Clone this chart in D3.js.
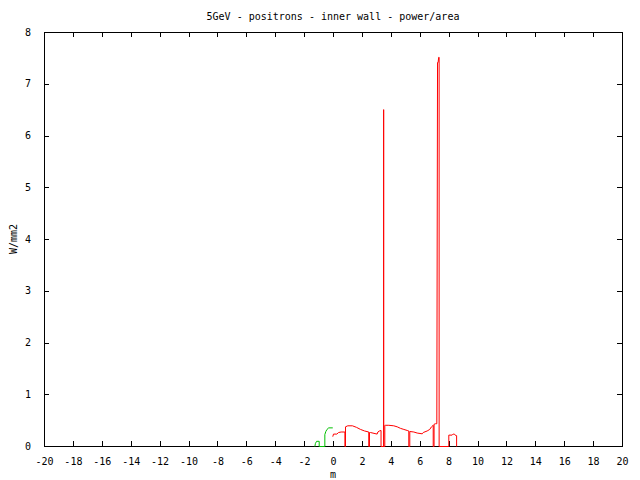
<html>

<head>
    <meta charset="utf-8">
    <title>5GeV - positrons - inner wall - power/area</title>
    <script src="https://cdn.jsdelivr.net/npm/d3@7/dist/d3.min.js"></script>
    <style type="text/css">
        body {
            margin: 0;
            background: white;
        }

        .axis path {
            display: none;
        }

        .axis line {
            stroke: black;
            shape-rendering: crispEdges;
        }

        .axis text,
        .label {
            font-family: "DejaVu Sans Mono", monospace;
            font-size: 10px;
            fill: black;
        }
    </style>
</head>

<body>
    <div id="graphContainer"></div>

    <script type="text/javascript">
        // tick values
        var xTicks = [-20, -18, -16, -14, -12, -10, -8, -6, -4, -2, 0, 2, 4, 6, 8, 10, 12, 14, 16, 18, 20];
        var yTicks = [0, 1, 2, 3, 4, 5, 6, 7, 8];

        // green series (m, W/mm2)
        var greenX = [-1.29, -1.25, -1.17, -0.99, -0.99, -0.60, -0.60, -0.53, -0.45, -0.33, -0.05];
        var greenY = [0, 0.06, 0.10, 0.10, 0, 0, 0.23, 0.29, 0.33, 0.36, 0.36];

        // red series (m, W/mm2)
        var redX = [-0.05, 0.00, 0.23, 0.35, 0.53, 0.79, 0.79, 0.83, 0.83, 0.99, 1.31, 1.59, 1.87, 2.15, 2.44,
            2.44, 2.49, 2.49, 2.56, 3.02, 3.07, 3.18, 3.29, 3.29, 3.47, 3.47, 3.47, 3.55, 3.55, 3.60, 3.83,
            4.17, 4.41, 4.64, 4.87, 5.10, 5.21, 5.21, 5.28, 5.28, 5.56, 5.79, 6.14, 6.21, 6.48, 6.66, 6.78,
            6.90, 6.90, 6.96, 6.96, 7.06, 7.15, 7.20, 7.24, 7.28, 7.31, 7.31, 7.98, 7.98, 8.21, 8.28, 8.35,
            8.48, 8.52, 8.52];
        var redY = [0.19, 0.24, 0.24, 0.27, 0.28, 0.28, 0, 0, 0.38, 0.40, 0.40, 0.37, 0.33, 0.30, 0.28,
            0, 0, 0.27, 0.27, 0.24, 0.28, 0.30, 0.31, 0, 0, 6.51, 0, 0, 0.41, 0.41, 0.41,
            0.40, 0.38, 0.35, 0.33, 0.31, 0.30, 0, 0, 0.29, 0.28, 0.26, 0.245, 0.27, 0.30, 0.33, 0.38,
            0.41, 0, 0, 0.43, 0.44, 0.44, 7.42, 7.42, 7.52, 7.52, 0, 0, 0.22, 0.22, 0.24, 0.24,
            0.21, 0.21, 0];

        var w = 640;
        var h = 480;
        var padLeft = 44, padRight = 622, padTop = 32, padBottom = 446;

        var svg = d3.select("#graphContainer")
            .append("svg")
            .attr("width", w)
            .attr("height", h);

        svg.append("rect")
            .attr("width", w)
            .attr("height", h)
            .attr("fill", "white");

        var xScale = d3.scaleLinear()
            .domain([-20, 20])
            .range([padLeft, padRight]);

        var yScale = d3.scaleLinear()
            .domain([0, 8])
            .range([padBottom, padTop]);

        var plain = function (d) { return String(d); };

        // axes, ticks point inward and are mirrored
        svg.append("g")
            .attr("class", "x axis")
            .attr("transform", "translate(0," + padBottom + ")")
            .call(d3.axisBottom(xScale).tickValues(xTicks).tickSize(-5).tickPadding(10).tickFormat(plain));
        svg.selectAll(".x.axis text").attr("dy", "0.9em");

        svg.append("g")
            .attr("class", "axis")
            .attr("transform", "translate(0," + padTop + ")")
            .call(d3.axisTop(xScale).tickValues(xTicks).tickSize(-5).tickFormat(""));

        svg.append("g")
            .attr("class", "y axis")
            .attr("transform", "translate(" + padLeft + ",0)")
            .call(d3.axisLeft(yScale).tickValues(yTicks).tickSize(-5).tickPadding(13).tickFormat(plain));

        svg.append("g")
            .attr("class", "axis")
            .attr("transform", "translate(" + padRight + ",0)")
            .call(d3.axisRight(yScale).tickValues(yTicks).tickSize(-5).tickFormat(""));

        // border
        svg.append("rect")
            .attr("x", padLeft + 0.5)
            .attr("y", padTop + 0.5)
            .attr("width", padRight - padLeft)
            .attr("height", padBottom - padTop)
            .attr("fill", "none")
            .attr("stroke", "black")
            .attr("stroke-width", 1);

        var line = d3.line()
            .x(function (d) { return xScale(d[0]); })
            .y(function (d) { return yScale(d[1]); });

        var redData = d3.zip(redX, redY);
        var greenData = d3.zip(greenX, greenY);

        svg.append("path")
            .datum(redData)
            .attr("d", line)
            .attr("fill", "none")
            .attr("stroke", "#ff0000")
            .attr("stroke-width", 1)
            .attr("transform", "translate(0.5,0.5)");

        svg.append("path")
            .datum(greenData)
            .attr("d", line)
            .attr("fill", "none")
            .attr("stroke", "#00c000")
            .attr("stroke-width", 1)
            .attr("transform", "translate(0.5,0.5)");

        // labels
        svg.append("text")
            .attr("class", "label")
            .attr("x", (padLeft + padRight) / 2)
            .attr("y", 16)
            .attr("dy", "0.35em")
            .attr("text-anchor", "middle")
            .text("5GeV - positrons - inner wall - power/area");

        svg.append("text")
            .attr("class", "label")
            .attr("x", (padLeft + padRight) / 2)
            .attr("y", 474)
            .attr("dy", "0.35em")
            .attr("text-anchor", "middle")
            .text("m");

        svg.append("text")
            .attr("class", "label")
            .attr("transform", "translate(13," + ((padTop + padBottom) / 2) + ") rotate(-90)")
            .attr("dy", "0.35em")
            .attr("text-anchor", "middle")
            .text("W/mm2");
    </script>

</body>

</html>
